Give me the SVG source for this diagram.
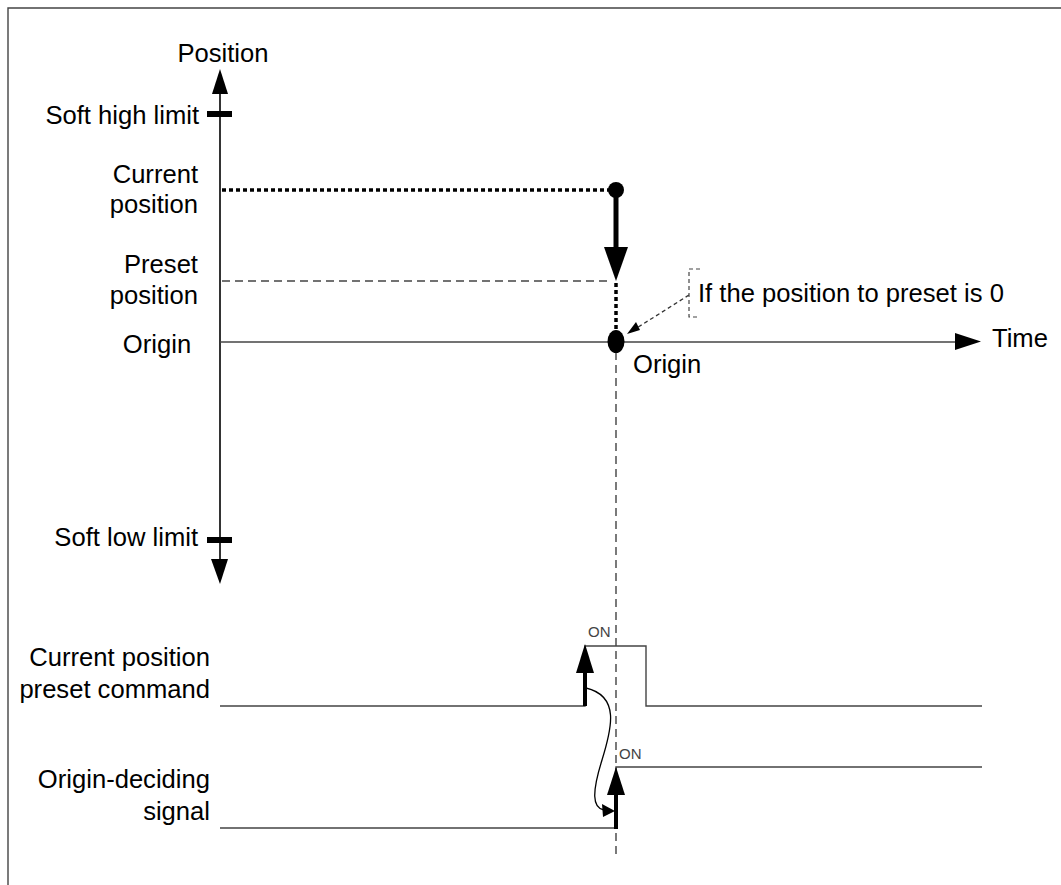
<svg xmlns="http://www.w3.org/2000/svg" width="1061" height="885" viewBox="0 0 1061 885">
<style>
text{font-family:"Liberation Sans",Arial,sans-serif;font-size:25.6px;fill:#000}
.r{text-anchor:end}
.on{font-size:15px;fill:#444}
.thin{stroke:#444;stroke-width:1.4;fill:none}
.ax{stroke:#000;stroke-width:1.6;fill:none}
.fill{fill:#000;stroke:none}
</style>
<rect width="1061" height="885" fill="#fff"/>
<g id="frame"><path d="M8,885V8H1061" class="thin" stroke-width="1.6"/></g>

<g id="position-axis">
<line x1="220" y1="93" x2="220" y2="560" class="ax"/>
<path d="M212,94L220,69L228,94z" class="fill"/>
<path d="M211,559L220,584L228,559z" class="fill"/>
<text x="223" y="62" text-anchor="middle">Position</text>
</g>
<g id="soft-high">
<rect x="207" y="111" width="25" height="6" class="fill"/>
<text x="199" y="124" class="r">Soft high limit</text>
</g>
<g id="soft-low">
<rect x="207" y="537" width="25" height="6" class="fill"/>
<text x="198" y="546" class="r">Soft low limit</text>
</g>
<g id="current-position">
<text x="198" y="183" class="r">Current</text>
<text x="198" y="213" class="r">position</text>
</g>
<g id="preset-position">
<text x="198" y="273" class="r">Preset</text>
<text x="198" y="304" class="r">position</text>
</g>
<g id="origin-label-left"><text x="157" y="353" text-anchor="middle">Origin</text></g>

<g id="time-axis">
<line x1="220" y1="342" x2="956" y2="342" class="thin" stroke-width="1.6"/>
<path d="M955,333L981,341.5L955,350z" class="fill"/>
<text x="992" y="347">Time</text>
</g>

<g id="connectors">
<line x1="222" y1="190" x2="612" y2="190" stroke="#000" stroke-width="3.5" stroke-dasharray="4,3"/>
<line x1="616" y1="190" x2="616" y2="250" stroke="#000" stroke-width="5"/>
<path d="M604,247L616,281L628,247z" class="fill"/>
<line x1="222" y1="281" x2="612" y2="281" stroke="#444" stroke-width="1.3" stroke-dasharray="8,5"/>
<line x1="616" y1="283" x2="616" y2="332" stroke="#000" stroke-width="3.5" stroke-dasharray="4,3"/>
<line x1="616" y1="352" x2="616" y2="856" stroke="#333" stroke-width="1.3" stroke-dasharray="8,5"/>
<path d="M689,295L632,331" stroke="#333" stroke-width="1.3" stroke-dasharray="4,3" fill="none"/>
<path d="M627,334L636,322L640,330z" class="fill"/>
<path d="M700,269H689V317H700" stroke="#444" stroke-width="1.2" stroke-dasharray="4,3" fill="none"/>
<path d="M586,688C620,696 612,728 602,760C592,792 592,808 604,810" stroke="#000" stroke-width="1.3" fill="none"/>
<path d="M602,804L615,811L603,817z" class="fill"/>
</g>

<g id="current-dot"><circle cx="616" cy="190" r="8" class="fill"/></g>
<g id="origin-point">
<ellipse cx="616" cy="341.5" rx="8.5" ry="11.5" class="fill"/>
<text x="633" y="373">Origin</text>
</g>
<g id="callout"><text x="698" y="302">If the position to preset is 0</text></g>

<g id="preset-command">
<text x="210" y="666" class="r">Current position</text>
<text x="210" y="698" class="r">preset command</text>
<path d="M220,706H585V646H646V706H982" class="thin"/>
<line x1="585" y1="706" x2="585" y2="672" stroke="#000" stroke-width="4"/>
<path d="M576,673L585,644L594,673z" class="fill"/>
<text x="588" y="637" class="on">ON</text>
</g>
<g id="origin-signal">
<text x="210" y="788" class="r">Origin-deciding</text>
<text x="210" y="820" class="r">signal</text>
<path d="M220,828H616V767H982" class="thin"/>
<line x1="616" y1="829" x2="616" y2="794" stroke="#000" stroke-width="4"/>
<path d="M607,795L616,767L625,795z" class="fill"/>
<text x="619" y="759" class="on">ON</text>
</g>
</svg>
